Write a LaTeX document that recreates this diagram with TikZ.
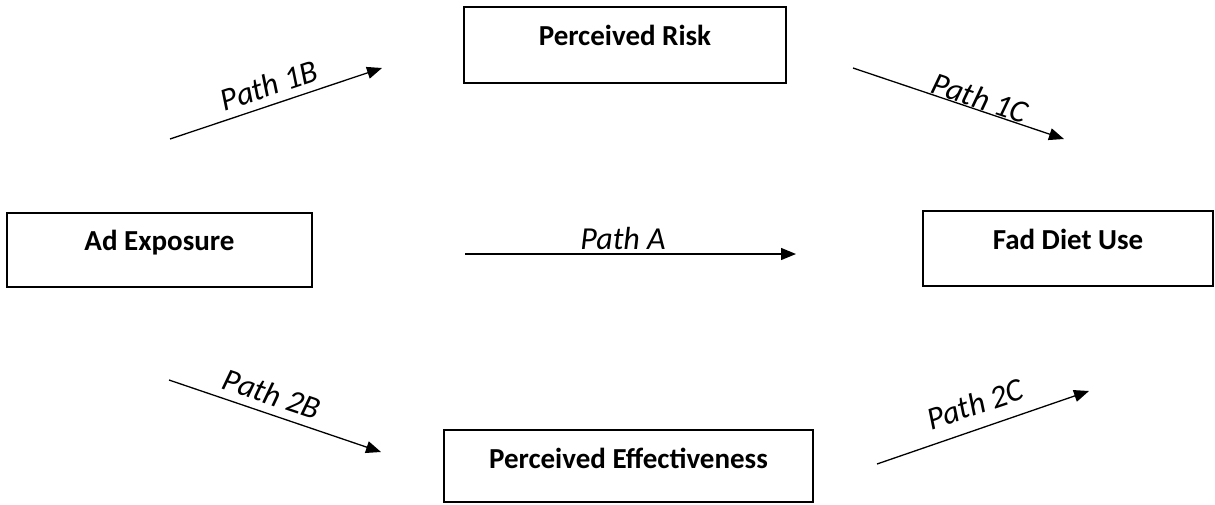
\documentclass[tikz,border=0pt]{standalone}
\usepackage{fontspec}
\setmainfont{Carlito}
\usetikzlibrary{arrows.meta}
\begin{document}
\begin{tikzpicture}[x=1pt,y=-1pt,
  box/.style={draw,line width=1.6pt,inner xsep=0pt,inner ysep=0pt,anchor=base,
    font=\fontsize{29}{34}\selectfont\bfseries},
  pathlbl/.style={font=\fontsize{32}{38}\selectfont\itshape,inner sep=0pt},
  conn/.style={line width=1.3pt,-{Triangle[length=15pt,width=12pt]}}]
\useasboundingbox (0,0) rectangle (1215,504);
\node[box,minimum width=322pt,text height=38pt,text depth=38pt] (risk) at (625,45) {Perceived Risk};
\node[box,minimum width=305pt,text height=37pt,text depth=37pt] (ad) at (159.5,250) {Ad Exposure};
\node[box,minimum width=290pt,text height=38pt,text depth=37pt] (fad) at (1068,249) {Fad Diet Use};
\node[box,minimum width=369pt,text height=38pt,text depth=34pt] (eff) at (628.5,468) {Perceived Effectiveness};
\coordinate (a1s) at (170,139); \coordinate (a1e) at (382,68);
\coordinate (c1s) at (853,68); \coordinate (c1e) at (1064,139);
\coordinate (as) at (465,254); \coordinate (ae) at (796,254);
\coordinate (b2s) at (169,380); \coordinate (b2e) at (381,452);
\coordinate (c2s) at (877,464); \coordinate (c2e) at (1089,391);
\draw[conn] (a1s) -- (a1e);
\draw[conn] (c1s) -- (c1e);
\draw[conn] (as) -- (ae);
\draw[conn] (b2s) -- (b2e);
\draw[conn] (c2s) -- (c2e);
\node[pathlbl,rotate=18.5] (l1b) at (269,85) {Path 1B};
\node[pathlbl,rotate=-18.5] (l1c) at (980,98) {Path 1C};
\node[pathlbl,anchor=base] (la) at (623,249) {Path A};
\node[pathlbl,rotate=-18.5] (l2b) at (272,394) {Path 2B};
\node[pathlbl,rotate=18.5] (l2c) at (975,404) {Path 2C};
\end{tikzpicture}
\end{document}
